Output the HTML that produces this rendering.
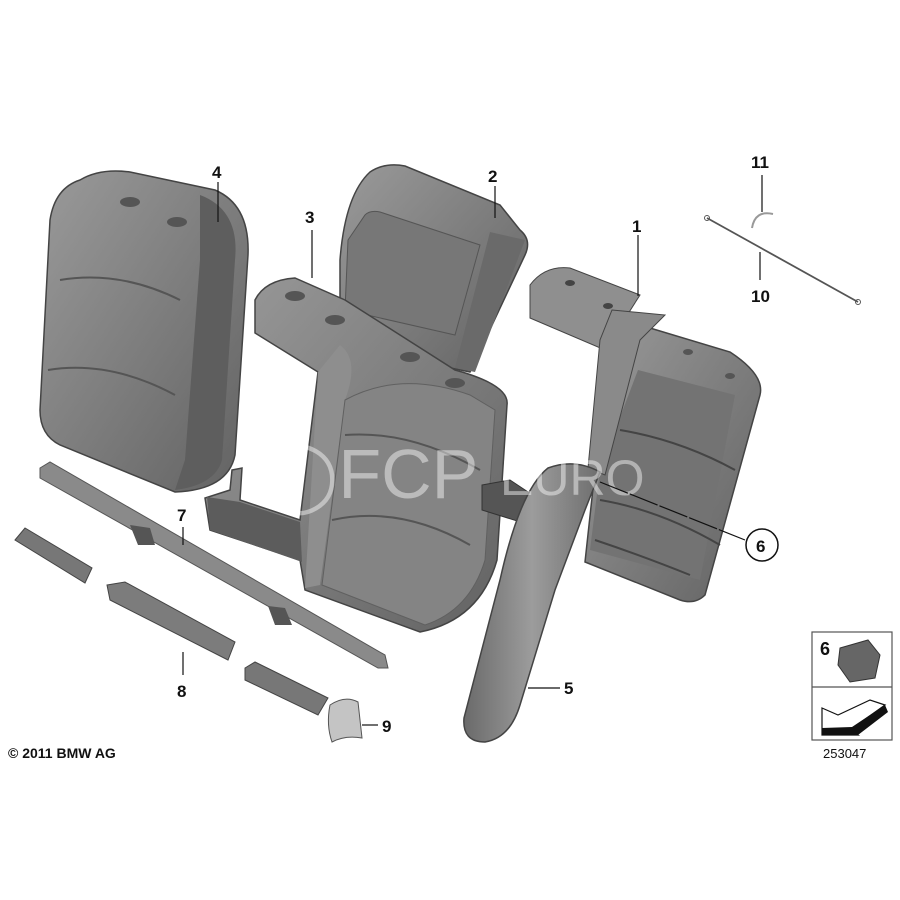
<!DOCTYPE html>
<html><head><meta charset="utf-8"><style>
html,body{margin:0;padding:0;background:#fff;}
svg{display:block;}
text{font-family:"Liberation Sans",sans-serif;font-weight:bold;font-size:17px;fill:#111;}
</style></head><body>
<svg width="900" height="900" viewBox="0 0 900 900" xmlns="http://www.w3.org/2000/svg">
<defs>
<linearGradient id="g1" x1="0" y1="0" x2="1" y2="1"><stop offset="0" stop-color="#9a9a9a"/><stop offset="0.5" stop-color="#7e7e7e"/><stop offset="1" stop-color="#626262"/></linearGradient>
<linearGradient id="g2" x1="0" y1="0" x2="1" y2="0"><stop offset="0" stop-color="#6a6a6a"/><stop offset="0.5" stop-color="#9c9c9c"/><stop offset="1" stop-color="#6e6e6e"/></linearGradient>
</defs>
<!-- part 4 -->
<path d="M80,180 Q100,168 130,172 L215,190 Q250,205 248,255 L235,455 Q228,490 175,492 L60,445 Q40,435 40,410 L50,220 Q55,188 80,180Z" fill="url(#g1)" stroke="#444" stroke-width="1.5"/>
<path d="M200,195 Q240,210 235,260 L222,460 Q215,485 175,490 L185,460 L200,260Z" fill="#5e5e5e"/>
<path d="M60,280 Q120,270 180,300 M48,370 Q110,360 175,395" stroke="#555" fill="none" stroke-width="2"/>
<ellipse cx="130" cy="202" rx="10" ry="5" fill="#555"/><ellipse cx="177" cy="222" rx="10" ry="5" fill="#555"/>
<!-- part 2 -->
<path d="M370,172 Q385,162 405,166 L500,205 L520,230 Q532,240 525,255 L470,372 L340,345 L340,260 Q345,195 370,172Z" fill="url(#g1)" stroke="#444" stroke-width="1.5"/>
<path d="M365,215 Q370,210 380,212 L480,245 L455,335 L345,310 L348,240Z" fill="#777" stroke="#555"/>
<path d="M490,232 L525,240 L475,372 L455,368Z" fill="#6a6a6a"/>
<!-- part 3 -->
<path d="M255,300 Q265,280 295,278 L345,300 L455,370 Q510,385 507,405 L497,560 Q480,620 420,632 L305,590 L300,560 L210,530 L205,498 L230,490 L232,470 L242,468 L240,500 L300,520 L318,372 L255,333 Z" fill="url(#g1)" stroke="#444" stroke-width="1.5"/>
<path d="M207,497 L240,502 L300,522 L302,562 L210,530Z" fill="#5c5c5c"/>
<path d="M340,345 Q360,360 345,400 L320,585 L305,588 L318,372Z" fill="#8e8e8e"/>
<path d="M345,400 Q400,370 470,395 L495,410 L485,560 Q470,610 425,625 L322,585Z" fill="#848484" stroke="#606060"/>
<path d="M345,435 Q410,430 480,470 M332,520 Q400,505 470,545" stroke="#555" fill="none" stroke-width="2"/>
<ellipse cx="295" cy="296" rx="10" ry="5" fill="#555"/><ellipse cx="335" cy="320" rx="10" ry="5" fill="#555"/>
<ellipse cx="410" cy="357" rx="10" ry="5" fill="#555"/><ellipse cx="455" cy="383" rx="10" ry="5" fill="#555"/>
<!-- part 1 -->
<path d="M640,325 L730,352 Q765,375 760,395 L705,595 Q695,605 680,600 L585,562 L595,470Z" fill="url(#g1)" stroke="#444" stroke-width="1.5"/>
<path d="M638,370 L735,395 L700,580 L590,550 L600,470Z" fill="#737373"/>
<path d="M620,430 Q680,440 735,470 M600,500 Q660,510 720,545 M595,540 Q640,555 690,575" stroke="#444" fill="none" stroke-width="2"/>
<ellipse cx="688" cy="352" rx="5" ry="3" fill="#555"/><ellipse cx="730" cy="376" rx="5" ry="3" fill="#555"/>
<path d="M530,285 Q545,265 570,268 L640,295 L605,350 L530,318Z" fill="#8f8f8f" stroke="#444"/>
<ellipse cx="570" cy="283" rx="5" ry="3" fill="#444"/><ellipse cx="608" cy="306" rx="5" ry="3" fill="#444"/>
<path d="M612,310 L665,315 L640,340 L605,475 L588,468 L600,340Z" fill="#8a8a8a" stroke="#444"/>
<path d="M482,485 L510,480 L540,500 L548,520 L530,525 L482,510Z" fill="#555" stroke="#333"/>
<!-- part 5 -->
<path d="M548,468 Q575,458 600,472 L585,510 L555,590 L520,705 Q510,738 485,742 Q462,742 464,718 L500,580 Q520,490 548,468Z" fill="url(#g2)" stroke="#444" stroke-width="1.5"/>
<!-- rail 7 -->
<path d="M40,468 L50,462 L385,655 L388,668 L378,668 L40,478Z" fill="#8a8a8a" stroke="#555"/>
<path d="M130,525 L150,528 L155,545 L138,545Z M268,606 L285,608 L292,625 L275,625Z" fill="#555"/>
<!-- rail 8 -->
<path d="M15,540 L25,528 L92,568 L85,583Z" fill="#777" stroke="#444"/>
<path d="M107,585 L125,582 L235,642 L228,660 L110,600Z" fill="#7c7c7c" stroke="#444"/>
<path d="M245,668 L255,662 L328,698 L318,715 L245,680Z" fill="#777" stroke="#444"/>
<!-- part 9 -->
<path d="M330,705 Q345,695 358,702 L362,738 Q345,735 332,742 Q326,725 330,705Z" fill="#c4c4c4" stroke="#555"/>
<!-- wire 10/11 -->
<line x1="707" y1="218" x2="858" y2="302" stroke="#555" stroke-width="1.8"/>
<circle cx="707" cy="218" r="2.5" fill="none" stroke="#555"/><circle cx="858" cy="302" r="2.5" fill="none" stroke="#555"/>
<path d="M752,228 Q755,210 773,214" stroke="#999" fill="none" stroke-width="2"/>
<!-- watermark -->
<text x="260" y="498" style="font-size:70px;fill:#ffffff;fill-opacity:0.45;font-weight:normal">◯FCP</text>
<text x="500" y="495" style="font-size:50px;fill:#ffffff;fill-opacity:0.45;font-weight:normal">EURO</text>
<!-- leader lines -->
<g stroke="#111" stroke-width="1.2">
<line x1="218" y1="182" x2="218" y2="222"/>
<line x1="495" y1="186" x2="495" y2="218"/>
<line x1="312" y1="230" x2="312" y2="278"/>
<line x1="638" y1="235" x2="638" y2="296"/>
<line x1="762" y1="175" x2="762" y2="212"/>
<line x1="760" y1="252" x2="760" y2="280"/>
<line x1="600" y1="482" x2="745" y2="540" stroke-dasharray="30 2"/>
<line x1="183" y1="527" x2="183" y2="545"/>
<line x1="183" y1="652" x2="183" y2="675"/>
<line x1="528" y1="688" x2="560" y2="688"/>
<line x1="362" y1="725" x2="378" y2="725"/>
</g>
<circle cx="762" cy="545" r="16" fill="#fff" stroke="#111" stroke-width="1.5"/>
<text x="212" y="178">4</text><text x="488" y="182">2</text><text x="305" y="223">3</text>
<text x="632" y="232">1</text><text x="751" y="168">11</text><text x="751" y="302">10</text>
<text x="756" y="552">6</text><text x="177" y="521">7</text><text x="177" y="697">8</text>
<text x="564" y="694">5</text><text x="382" y="732">9</text>
<text x="8" y="758" style="font-size:14px;">© 2011 BMW AG</text>
<!-- legend -->
<rect x="812" y="632" width="80" height="108" fill="#fff" stroke="#555" stroke-width="1.2"/>
<line x1="812" y1="687" x2="892" y2="687" stroke="#555" stroke-width="1.2"/>
<text x="820" y="655" style="font-size:18px">6</text>
<path d="M840,648 L868,640 L880,655 L875,678 L850,682 L838,665Z" fill="#666" stroke="#333"/>
<path d="M822,708 L838,715 L870,700 L885,705 L850,730 L858,735 L822,735Z" fill="#fff" stroke="#111" stroke-width="1.2"/>
<path d="M822,735 L858,735 L888,712 L885,705 L852,727 L822,728Z" fill="#111"/>
<text x="823" y="758" style="font-size:13px;font-weight:normal">253047</text>
</svg>
</body></html>
